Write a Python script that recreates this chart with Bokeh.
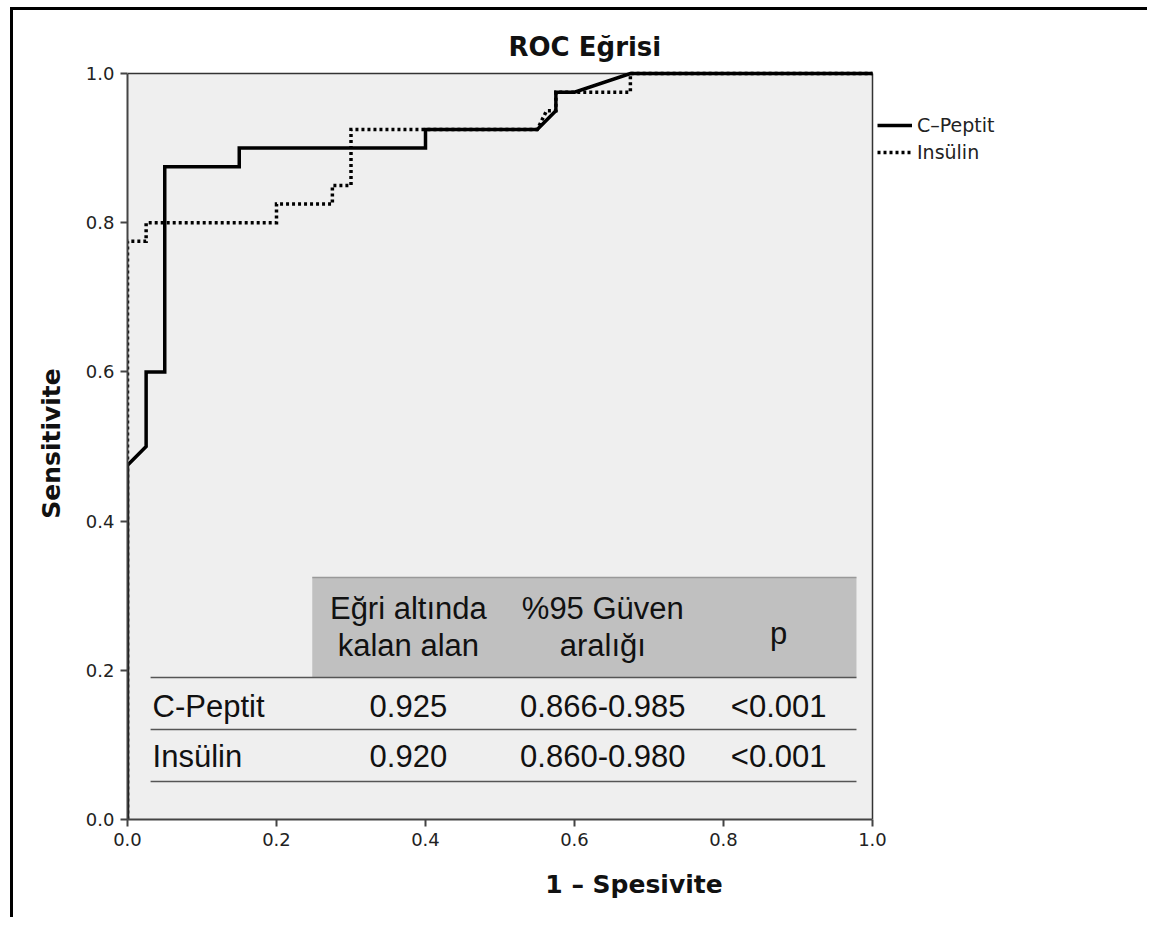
from bokeh.plotting import figure
from bokeh.models import (Range1d, FixedTicker, NumeralTickFormatter, Label, Legend,
                          LegendItem, Title)
from bokeh.embed import file_html
from bokeh.resources import INLINE

# ---- data ----
cpep_fpr = [0.0, 0.0, 0.025, 0.025, 0.05, 0.05, 0.15, 0.15, 0.40, 0.40, 0.55, 0.575, 0.575, 0.60, 0.675, 1.0]
cpep_tpr = [0.0, 0.475, 0.50, 0.60, 0.60, 0.875, 0.875, 0.90, 0.90, 0.925, 0.925, 0.95, 0.975, 0.975, 1.0, 1.0]

ins_fpr = [0.0, 0.0, 0.025, 0.025, 0.20, 0.20, 0.275, 0.275, 0.30, 0.30, 0.55, 0.5625, 0.575, 0.575, 0.675, 0.675, 1.0]
ins_tpr = [0.0, 0.775, 0.775, 0.80, 0.80, 0.825, 0.825, 0.85, 0.85, 0.925, 0.925, 0.95, 0.95, 0.975, 0.975, 1.0, 1.0]

ticks = [0.0, 0.2, 0.4, 0.6, 0.8, 1.0]

table_header = ["Eğri altında\nkalan alan", "%95 Güven\naralığı", "p"]
table_rows = ["C-Peptit", "Insülin"]
table_auc = ["0.925", "0.920"]
table_ci = ["0.866-0.985", "0.860-0.980"]
table_p = ["<0.001", "<0.001"]

# ---- figure ----
W, H = 1137, 910
PAD = 6  # small extra room above y=1 so lines on the top edge are not clipped
LEFT, RIGHT, TOP, BOTTOM = 114, 10, 63 - PAD, 101
PX_X, PX_Y = 745.0, 746.0
x_max = (W - LEFT - RIGHT) / PX_X  # plot area ends at x=1; extra room holds the legend
y_max = 1 + PAD / PX_Y

p = figure(width=W, height=H, output_backend="svg", toolbar_location=None,
           x_range=Range1d(0, x_max), y_range=Range1d(0, y_max),
           min_border_left=LEFT, min_border_right=RIGHT, min_border_top=TOP, min_border_bottom=BOTTOM,
           background_fill_color="white", border_fill_color="white")
p.styles = {"border-top": "3px solid black", "border-left": "3px solid black",
            "margin-left": "10px", "margin-top": "7px"}
p.outline_line_color = None
p.grid.visible = False

p.title = Title(text="ROC Eğrisi", align="left", offset=381, standoff=12,
                text_font="DejaVu Sans", text_font_style="bold", text_font_size="26px",
                text_color="#111111")

for ax in (p.xaxis[0], p.yaxis[0]):
    ax.ticker = FixedTicker(ticks=ticks)
    ax.formatter = NumeralTickFormatter(format="0.0")
    ax.bounds = (0, 1)
    ax.minor_tick_line_color = None
    ax.major_tick_out = 7
    ax.major_tick_in = 0
    ax.major_tick_line_color = "#444444"
    ax.major_tick_line_width = 2
    ax.axis_line_color = "#444444"
    ax.axis_line_width = 2
    ax.major_label_text_font = "DejaVu Sans"
    ax.major_label_text_font_size = "18px"
    ax.major_label_text_color = "#222222"
    ax.major_label_standoff = 6
    ax.axis_label_text_font = "DejaVu Sans"
    ax.axis_label_text_font_style = "bold"
    ax.axis_label_text_font_size = "25px"
    ax.axis_label_text_color = "#111111"

p.xaxis.axis_label = "1 – Spesivite"
p.xaxis.axis_label_standoff = 21
p.yaxis.axis_label = "Sensitivite"
p.yaxis.axis_label_standoff = 17

# ---- plot area background and border ----
p.quad(left=[0], right=[1], bottom=[0], top=[1], fill_color="#efefef", line_color=None)
p.segment(x0=[0, 1], y0=[1, 0], x1=[1, 1], y1=[1, 1], line_color="#333333", line_width=1.5)

# ---- table (drawn under curves) ----
tx_left, tx_right = 0.031, 0.9785
p.quad(left=[0.248], right=[tx_right], bottom=[0.1903], top=[0.3244],
       fill_color="#c0c0c0", line_color=None)
p.segment(x0=[0.248], y0=[0.3244], x1=[tx_right], y1=[0.3244], line_color="#999999", line_width=1.5)
p.segment(x0=[tx_left] * 3, y0=[0.1903, 0.1206, 0.0509], x1=[tx_right] * 3, y1=[0.1903, 0.1206, 0.0509],
          line_color="#555555", line_width=1.5)

col_x = [0.377, 0.638, 0.874]
tfont = "Liberation Sans"
tsize = "31px"
for cx, htxt in zip(col_x, table_header):
    lines = htxt.split("\n")
    if len(lines) == 2:
        p.add_layout(Label(x=cx, y=0.283, text=lines[0], text_align="center", text_baseline="alphabetic",
                           text_font=tfont, text_font_size=tsize, text_color="#111111"))
        p.add_layout(Label(x=cx, y=0.233, text=lines[1], text_align="center", text_baseline="alphabetic",
                           text_font=tfont, text_font_size=tsize, text_color="#111111"))
    else:
        p.add_layout(Label(x=cx, y=0.250, text=lines[0], text_align="center", text_baseline="middle",
                           text_font=tfont, text_font_size=tsize, text_color="#111111"))

row_y = [0.152, 0.0845]
for ry, name, auc, ci, pv in zip(row_y, table_rows, table_auc, table_ci, table_p):
    p.add_layout(Label(x=0.0336, y=ry, text=name, text_align="left", text_baseline="alphabetic",
                       text_font=tfont, text_font_size=tsize, text_color="#111111"))
    for cx, t in zip(col_x, [auc, ci, pv]):
        p.add_layout(Label(x=cx, y=ry, text=t, text_align="center", text_baseline="alphabetic",
                           text_font=tfont, text_font_size=tsize, text_color="#111111"))

# ---- curves ----
r_ins = p.line(ins_fpr, ins_tpr, line_color="black", line_width=3.5, line_dash="3 3", line_join="miter")
r_cp = p.line(cpep_fpr, cpep_tpr, line_color="black", line_width=3.5, line_join="miter")

legend = Legend(items=[LegendItem(label="C–Peptit", renderers=[r_cp]),
                       LegendItem(label="Insülin", renderers=[r_ins])],
                location=(750, 656), padding=0, margin=0, spacing=5,
                glyph_width=35, glyph_height=20, label_height=20, label_standoff=5,
                label_text_font="DejaVu Sans", label_text_font_size="19px", label_text_color="#222222",
                border_line_color=None, background_fill_alpha=0)
p.add_layout(legend, "center")

open("out.html", "w").write(file_html(p, INLINE))
